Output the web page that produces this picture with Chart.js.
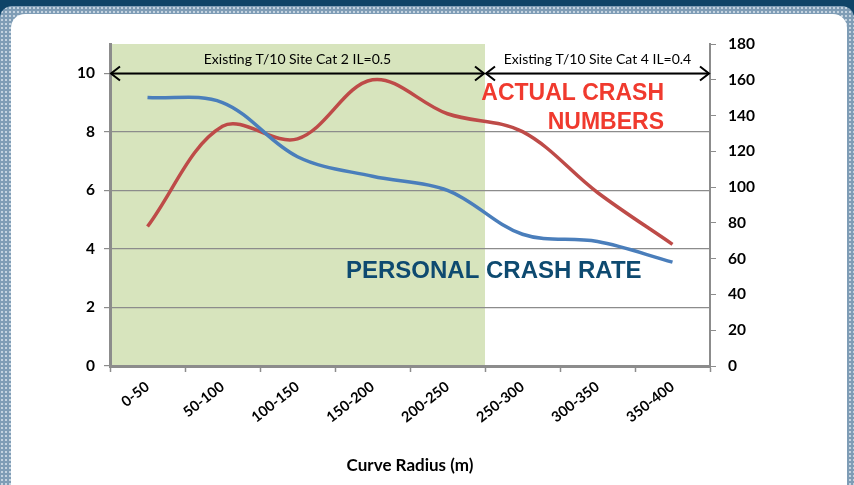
<!DOCTYPE html>
<html>
<head>
<meta charset="utf-8">
<title>Curve Radius crash chart</title>
<script src="https://cdn.jsdelivr.net/npm/chart.js@4.4.1/dist/chart.umd.min.js"></script>
<style>
  html, body { margin: 0; padding: 0; }
  body { width: 854px; height: 485px; overflow: hidden; position: relative; background: #0f4468; }
  .frame {
    position: absolute; left: 0; top: 6px; width: 854px; height: 520px;
    border-radius: 12px;
    background-color: #7f9db6;
    background-image: radial-gradient(#c4d3e0 0.8px, transparent 1.1px);
    background-size: 4px 4px;
  }
  .panel {
    position: absolute; left: 11px; top: 14px; width: 836px; height: 510px;
    border-radius: 14px; background: #fff;
  }
  #chart { position: absolute; left: 0; top: 0; }
</style>
</head>
<body>
<div class="frame"></div>
<div class="panel"></div>
<canvas id="chart" width="854" height="485"></canvas>
<script>
// ── Data ──────────────────────────────────────
var categories = ['0-50', '50-100', '100-150', '150-200', '200-250', '250-300', '300-350', '350-400'];
var personalCrashRate  = [9.17, 9.0, 7.15, 6.48, 6.0, 4.5, 4.25, 3.55];    // left axis
var actualCrashNumbers = [78, 134, 127, 160, 141, 131, 97, 68];          // right axis

var rateTicks  = [0, 2, 4, 6, 8, 10];
var countTicks = [0, 20, 40, 60, 80, 100, 120, 140, 160, 180];

// site category zones shown along the top of the plot
var zoneLabels = ['Existing T/10 Site Cat 2 IL=0.5', 'Existing T/10 Site Cat 4 IL=0.4'];
var zoneFrom   = ['0-50', '250-300'];
var zoneTo     = ['200-250', '350-400'];
var zoneShaded = [true, false];
var zoneArrowLevel = 10;

// ── Helpers ───────────────────────────────────
var GRID = '#8c8c8c';
var FONT = 'Lato, "Open Sans", sans-serif';

function bandEdges(xs, fromCat, toCat) {
  var half = (xs.getPixelForValue(1) - xs.getPixelForValue(0)) / 2;
  return [xs.getPixelForValue(categories.indexOf(fromCat)) - half,
          xs.getPixelForValue(categories.indexOf(toCat)) + half];
}

function fixTicks(list) {
  return function(scale) {
    scale.ticks = list.map(function(v) { return { value: v }; });
  };
}

function chevron(ctx, x, y, dir) {
  ctx.beginPath();
  ctx.moveTo(x + dir * 9, y - 7);
  ctx.lineTo(x, y);
  ctx.lineTo(x + dir * 9, y + 7);
  ctx.stroke();
}

// shaded zone goes under the grid lines
var zoneFill = {
  id: 'zoneFill',
  beforeDraw: function(chart) {
    var ctx = chart.ctx, area = chart.chartArea, xs = chart.scales.x;
    ctx.save();
    ctx.fillStyle = '#d7e4bd';
    zoneLabels.forEach(function(lbl, i) {
      if (!zoneShaded[i]) return;
      var e = bandEdges(xs, zoneFrom[i], zoneTo[i]);
      ctx.fillRect(e[0], area.top, e[1] - e[0], area.bottom - area.top);
    });
    ctx.restore();
  }
};

// arrows, zone labels and series callouts on top
var overlay = {
  id: 'overlay',
  afterDatasetsDraw: function(chart) {
    var ctx = chart.ctx, xs = chart.scales.x, ys = chart.scales.y;
    var ay = Math.round(ys.getPixelForValue(zoneArrowLevel)) + 0.5;
    ctx.save();
    ctx.strokeStyle = '#000';
    ctx.lineWidth = 2;
    ctx.fillStyle = '#000';
    ctx.font = '14px ' + FONT;
    ctx.textAlign = 'center';
    ctx.textBaseline = 'alphabetic';
    zoneLabels.forEach(function(lbl, i) {
      var e = bandEdges(xs, zoneFrom[i], zoneTo[i]);
      ctx.beginPath();
      ctx.moveTo(e[0] + 1, ay);
      ctx.lineTo(e[1] - 1, ay);
      ctx.stroke();
      chevron(ctx, e[0] + 1, ay, 1);
      chevron(ctx, e[1] - 1, ay, -1);
      ctx.fillText(lbl, (e[0] + e[1]) / 2, ay - 10);
    });

    ctx.font = 'bold 23px "Liberation Sans", Arial, sans-serif';
    ctx.textAlign = 'right';
    ctx.fillStyle = '#f03a2e';
    ctx.fillText('ACTUAL CRASH', 664, 100);
    ctx.fillText('NUMBERS', 664, 129);

    ctx.textAlign = 'left';
    ctx.font = 'bold 24px "Liberation Sans", Arial, sans-serif';
    ctx.fillStyle = '#0e4a70';
    ctx.fillText('PERSONAL CRASH RATE', 346, 278);
    ctx.restore();
  }
};

// ── Chart ─────────────────────────────────────
new Chart(document.getElementById('chart'), {
  type: 'line',
  data: {
    labels: categories,
    datasets: [
      {
        label: 'Personal Crash Rate',
        data: personalCrashRate,
        yAxisID: 'y',
        borderColor: '#4a7ebb',
        borderWidth: 3.5,
        pointRadius: 0,
        tension: 0.35,
        fill: false
      },
      {
        label: 'Actual Crash Numbers',
        data: actualCrashNumbers,
        yAxisID: 'y1',
        borderColor: '#be4b48',
        borderWidth: 3.5,
        pointRadius: 0,
        tension: 0.35,
        fill: false
      }
    ]
  },
  options: {
    responsive: false,
    devicePixelRatio: 1,
    animation: false,
    layout: { padding: { top: 44, left: 0, right: 0, bottom: 0 } },
    plugins: {
      legend: { display: false },
      tooltip: { enabled: false }
    },
    scales: {
      x: {
        offset: true,
        grid: { offset: true, drawOnChartArea: false, color: GRID, tickLength: 6, tickWidth: 1.5 },
        border: { color: GRID, width: 3 },
        ticks: {
          color: '#000', padding: 6, minRotation: 38, maxRotation: 38,
          font: { family: FONT, size: 14.5, weight: 'bold' }
        },
        title: {
          display: true, text: 'Curve Radius (m)', color: '#000',
          font: { family: FONT, size: 17, weight: 'bold' },
          padding: { top: 4, bottom: 9 }
        },
        afterFit: function(scale) { scale.height = 119; }
      },
      y: {
        position: 'left',
        min: 0, max: 11,
        afterBuildTicks: fixTicks(rateTicks),
        grid: { color: GRID, lineWidth: 1.2, tickLength: 6 },
        border: { color: GRID, width: 3 },
        ticks: {
          color: '#000', padding: 9,
          font: { family: FONT, size: 15.5, weight: 'bold' }
        },
        afterFit: function(scale) { scale.width = 110; }
      },
      y1: {
        position: 'right',
        min: 0, max: 180,
        afterBuildTicks: fixTicks(countTicks),
        grid: { drawOnChartArea: false, color: GRID, tickLength: 6 },
        border: { color: GRID, width: 2 },
        ticks: {
          color: '#000', padding: 12,
          font: { family: FONT, size: 15.5, weight: 'bold' }
        },
        afterFit: function(scale) { scale.width = 144; }
      }
    }
  },
  plugins: [zoneFill, overlay]
});
</script>
</body>
</html>
